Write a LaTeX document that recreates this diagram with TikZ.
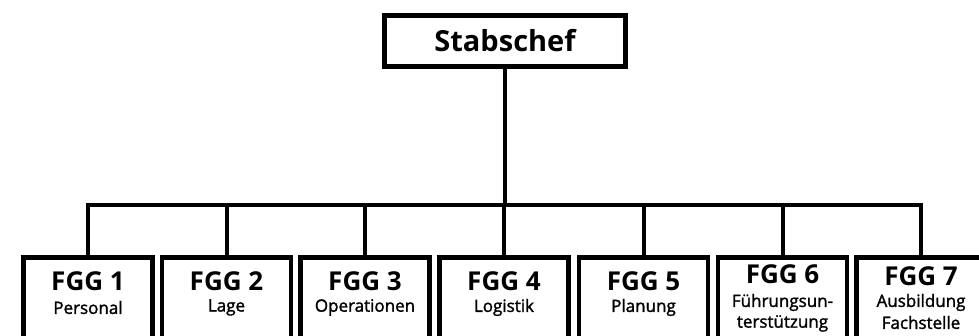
\documentclass[tikz,border=0pt]{standalone}
\usepackage{fontspec}
\setmainfont{Open Sans}
\newfontfamily\subfam{Open Sans}[BoldFont={Open Sans}, BoldFeatures={FakeBold=1.6}]
\begin{document}
\begin{tikzpicture}[x=1pt,y=-1pt,
  box/.style={draw=black, line width=4.6pt, rectangle, minimum width=129pt, minimum height=100pt, anchor=north, inner sep=0pt},
  chefbox/.style={draw=black, line width=4.6pt, rectangle, minimum width=241pt, minimum height=51pt, inner sep=0pt, font=\fontsize{29}{32}\selectfont\bfseries},
  conn/.style={line width=4pt, line cap=rect},
  ttl/.style={font=\fontsize{26}{28}\selectfont\bfseries, inner sep=0pt},
  sub/.style={font=\subfam\fontsize{17}{19}\selectfont\bfseries, inner sep=0pt}]
\useasboundingbox (0,0) rectangle (979,336);
\clip (0,0) rectangle (979,336);
\fill[white] (0,0) rectangle (979,336);
\node[chefbox] (chef) at (505,41) {Stabschef};
\foreach \i/\x in {1/88,2/226.5,3/365,4/504,5/643.5,6/782.5,7/921}{
  \node[box] (b\i) at (\x,255.5) {};
}
\coordinate (j) at (505,205);
\draw[conn] (chef.south) -- (j);
\draw[conn] (b1.north |- j) -- (b7.north |- j);
\foreach \i in {1,...,7}{
  \draw[conn, line cap=butt] (b\i.north |- j) -- (b\i.north);
}
% texts
\node[ttl] (t1) at ([yshift=-26]b1.north) {FGG 1};
\node[sub] (s1) at ([yshift=-52]b1.north) {Personal};
\node[ttl] (t2) at ([yshift=-26]b2.north) {FGG 2};
\node[sub] (s2) at ([yshift=-52]b2.north) {Lage};
\node[ttl] (t3) at ([yshift=-26]b3.north) {FGG 3};
\node[sub] (s3) at ([yshift=-52]b3.north) {Operationen};
\node[ttl] (t4) at ([yshift=-26]b4.north) {FGG 4};
\node[sub] (s4) at ([yshift=-52]b4.north) {Logistik};
\node[ttl] (t5) at ([yshift=-26]b5.north) {FGG 5};
\node[sub] (s5) at ([yshift=-52]b5.north) {Planung};
\node[ttl] (t6) at ([yshift=-19]b6.north) {FGG 6};
\node[sub] (s6) at ([yshift=-47]b6.north) {Führungsun-};
\node[sub] (u6) at ([yshift=-68]b6.north) {terstützung};
\node[ttl] (t7) at ([yshift=-21]b7.north) {FGG 7};
\node[sub] (s7) at ([yshift=-47]b7.north) {Ausbildung};
\node[sub] (u7) at ([yshift=-67]b7.north) {Fachstelle};
\end{tikzpicture}
\end{document}
